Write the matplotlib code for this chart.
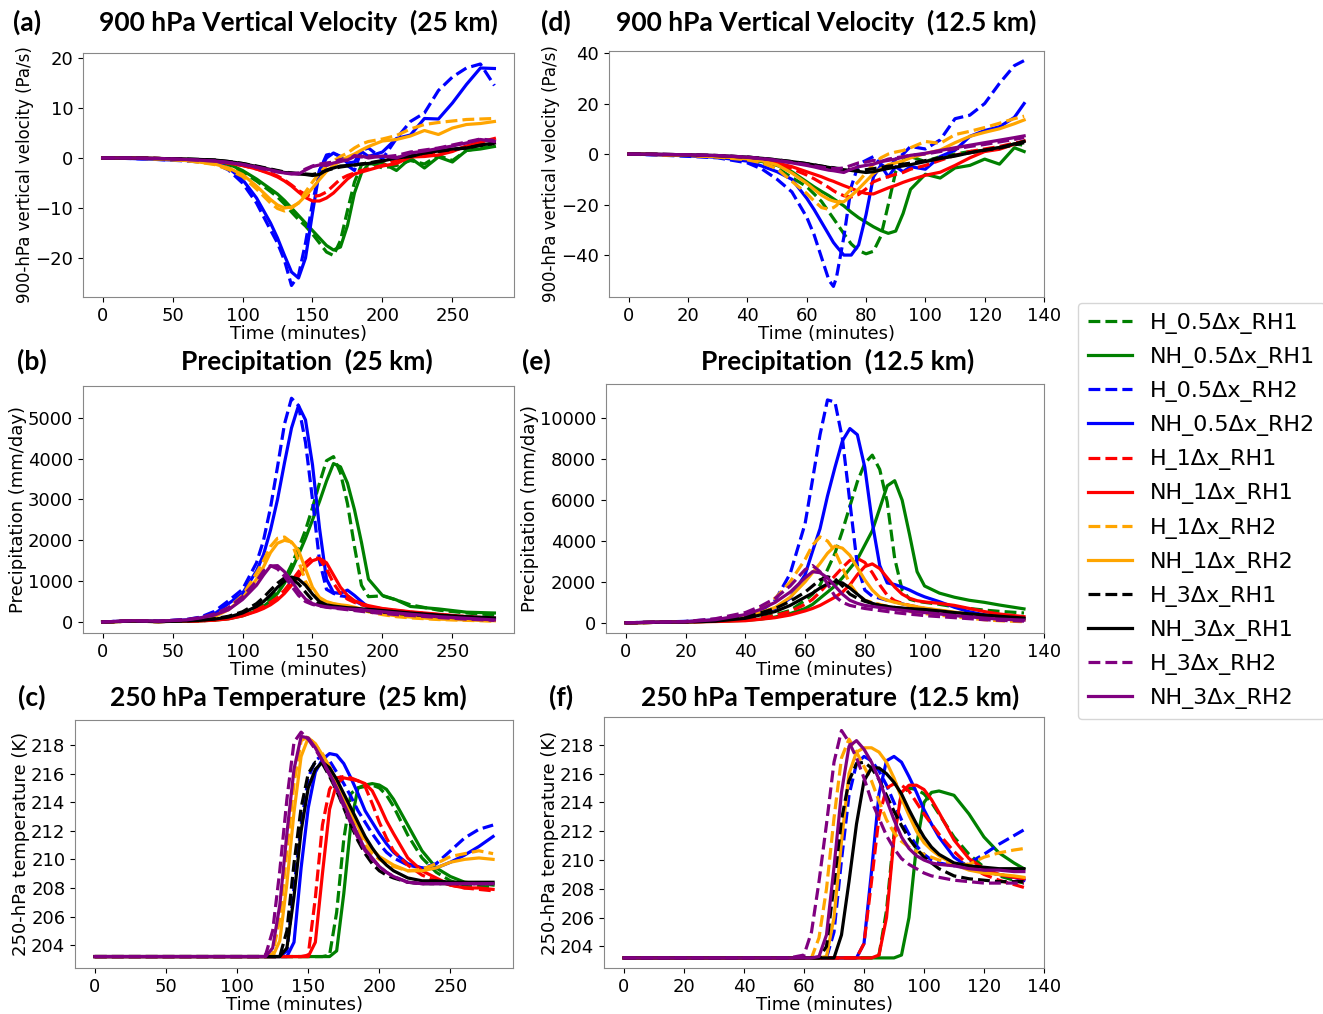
import matplotlib
matplotlib.use("Agg")
import matplotlib.pyplot as plt

# ── legend / style info ─────────────────────────────────────────────────────
LABELS = ["H_0.5Δx_RH1", "NH_0.5Δx_RH1", "H_0.5Δx_RH2", "NH_0.5Δx_RH2",
          "H_1Δx_RH1", "NH_1Δx_RH1", "H_1Δx_RH2", "NH_1Δx_RH2",
          "H_3Δx_RH1", "NH_3Δx_RH1", "H_3Δx_RH2", "NH_3Δx_RH2"]
COLORS = ["green", "green", "blue", "blue", "red", "red",
          "orange", "orange", "black", "black", "purple", "purple"]
STYLES = ["--", "-"] * 6

# ── (a) 900 hPa vertical velocity, 25 km ────────────────────────────────────
A_T = [0, 20, 40, 60, 80, 90, 100, 110, 120, 125, 130, 135, 140, 145, 150, 155,
       160, 165, 170, 175, 180, 185, 190, 200, 210, 220, 230, 240, 250, 260, 270, 280]
A_H05_RH1 = [0, 0, -0.1, -0.3, -0.7, -1.3, -2.8, -4.6, -6.7, -7.8, -9.2, -10.8, -12.3, -13.6, -15.2, -17,
             -18.8, -19.5, -16.5, -10.5, -4.8, -1.4, -0.8, -2.0, -1.5, -0.5, -1.2, 0.5, -0.5, 1.5, 2.0, 2.5]
A_NH05_RH1 = [0, 0, -0.1, -0.3, -0.6, -1.2, -2.5, -4.2, -6.2, -7.2, -8.5, -10, -11.5, -13, -14.5, -16,
              -17.5, -18.4, -17.8, -13.5, -7, -3, -1.2, -1.0, -2.5, 0, -2.0, 0.2, -0.8, 1.5, 1.8, 2.3]
A_H05_RH2 = [0, -0.1, -0.3, -0.6, -1.0, -2.4, -5, -9, -14.4, -17, -20.5, -25.5, -23.5, -17, -9, -2.5,
             0.6, 0.9, 0.3, -1.5, -2.5, 1.5, 2.0, -0.2, 3.9, 7.3, 9.0, 13.5, 16.2, 18, 18.8, 14.5]
A_NH05_RH2 = [0, -0.1, -0.3, -0.5, -0.9, -2.0, -4.3, -8, -13, -16, -19.5, -22.8, -24.0, -20, -11, -2.5,
              0, 1.0, 0.3, -1, -0.8, 1.3, 0.3, 1.2, 3.9, 4.6, 7.9, 7.8, 11, 14.7, 18, 17.9]
A_H1_RH1 = [0, 0, -0.1, -0.3, -0.6, -1.0, -1.5, -2.2, -3.0, -3.6, -4.4, -5.4, -6.5, -7.3, -7.7, -7.5,
            -6.8, -5.5, -4.2, -3.5, -3.0, -2.5, -2.2, -1.5, -0.5, 0.3, 0.5, 0.9, 1.5, 2.3, 3.0, 3.6]
A_NH1_RH1 = [0, 0, -0.1, -0.3, -0.6, -1.0, -1.5, -2.2, -3.2, -3.8, -4.6, -5.6, -6.8, -7.9, -8.6, -8.6,
             -8.0, -7.0, -5.6, -4.2, -3.2, -2.8, -2.4, -1.6, -1.1, 0.2, 0.3, 0.6, 1.3, 2.4, 3.2, 3.9]
A_H1_RH2 = [0, 0, -0.2, -0.5, -1.3, -2.3, -3.7, -6.2, -9.0, -10.1, -10.6, -10.0, -9.0, -6.8, -4.8, -3.0,
            -1.6, -0.6, 0.3, 1.0, 2.0, 2.8, 3.3, 3.8, 4.5, 5.8, 6.7, 7.1, 7.4, 7.7, 7.8, 7.9]
A_NH1_RH2 = [0, 0, -0.2, -0.5, -1.2, -2.0, -3.3, -5.6, -8.3, -9.4, -10.0, -9.8, -9.0, -7.6, -6.0, -4.3,
             -2.7, -1.5, -0.6, 0.2, 0.8, 1.6, 2.3, 3.4, 3.7, 4.4, 5.5, 4.7, 6.0, 6.7, 6.9, 7.3]
A_H3_RH1 = [0, 0, -0.1, -0.2, -0.4, -0.7, -1.1, -1.6, -2.2, -2.5, -2.8, -3.0, -3.1, -3.2, -3.3, -3.0,
            -2.5, -2.1, -1.8, -1.6, -1.4, -1.2, -1.0, -0.5, 0.1, 0.4, 1.0, 1.3, 1.7, 2.0, 2.5, 2.9]
A_NH3_RH1 = [0, 0, -0.1, -0.2, -0.4, -0.7, -1.1, -1.7, -2.3, -2.6, -2.9, -3.0, -3.2, -3.3, -3.5, -3.3,
             -2.4, -2.0, -1.6, -1.5, -1.4, -1.2, -1.1, -0.6, 0.0, 0.3, 1.0, 1.4, 1.8, 2.0, 2.6, 3.0]
A_H3_RH2 = [0, 0, -0.1, -0.3, -0.6, -0.9, -1.3, -1.9, -2.5, -2.8, -3.0, -3.1, -3.0, -2.2, -1.6, -1.2,
            -1.0, -0.8, -0.3, -0.5, 0.5, 0.2, 0.4, 0.2, 0.5, 1.2, 1.6, 2.0, 2.6, 3.2, 3.8, 3.5]
A_NH3_RH2 = [0, 0, -0.1, -0.3, -0.6, -0.9, -1.3, -1.8, -2.4, -2.7, -3.0, -3.2, -3.2, -2.4, -1.7, -1.4,
             -1.5, -1.0, -0.7, -0.4, 0.3, 0.4, 0.0, 0.4, 0.0, 1.0, 1.4, 1.9, 2.4, 3.0, 3.7, 3.3]

# ── (d) 900 hPa vertical velocity, 12.5 km ──────────────────────────────────
D_T = [0, 10, 20, 30, 40, 45, 50, 55, 60, 62.5, 65, 67.5, 69, 70, 72.5, 75, 77.5,
       80, 82.5, 85, 87.5, 90, 92.5, 95, 100, 105, 110, 115, 120, 125, 130, 133.3]
D_H05_RH1 = [0, -0.2, -0.5, -1.0, -2.3, -3.5, -5.5, -9.3, -12.9, -15.8, -18.8, -23, -25.5, -27.2, -31.5, -35.6, -38.2,
             -39.5, -38.5, -32.5, -20, -7, -2.5, -1, -3, -1, 0, 1, 1.5, 2.5, 4, 3.5]
D_NH05_RH1 = [0, -0.2, -0.5, -1.0, -2.0, -3.0, -4.5, -7.0, -11, -13, -14.8, -16.5, -17.7, -18.5, -20.5, -23, -25.2,
              -27, -28.8, -30.3, -31.4, -30.5, -23.5, -14, -8, -9.5, -5.5, -4.5, -2, -4, 2.5, 1]
D_H05_RH2 = [0, -0.4, -0.9, -1.5, -3.5, -6, -10, -15, -25, -32, -41, -50, -52.4, -49, -33, -13, -4,
             -2.5, -1, -4, -6, -2, 0, 3, 2, 5.6, 14, 15.4, 20, 28, 35, 37]
D_NH05_RH2 = [0, -0.3, -0.7, -1.3, -2.8, -4.8, -7, -10, -17.5, -22, -27, -32, -35, -36.5, -40, -40, -36,
              -24, -9, -4.5, -9, -5, -7, -5, -6, -1.0, 1.5, 7, 9.3, 10.8, 14.5, 20]
D_H1_RH1 = [0, -0.2, -0.5, -1.0, -2.0, -2.8, -4.0, -5.8, -8.3, -9.8, -11.5, -13.3, -14.5, -15.2, -16.5, -17, -16,
            -13.8, -11, -9.8, -9, -8, -7.3, -6, -4.5, -2.5, -0.5, 1, 2, 3, 4.3, 5]
D_NH1_RH1 = [0, -0.2, -0.5, -1.0, -1.8, -2.5, -3.5, -5.0, -7.0, -8.0, -9.0, -10.2, -10.8, -11.3, -12.5, -13.6, -14.8,
             -15.6, -15.8, -14.6, -13.4, -12.4, -11.2, -10.2, -8.4, -7.2, -4.5, -1.5, 1, 1.9, 3.9, 5.2]
D_H1_RH2 = [0, -0.2, -0.5, -1.2, -2.3, -3.5, -5.8, -10.8, -15.6, -18.6, -21.2, -21.9, -21.2, -20.4, -17, -13.8, -10.8,
            -7.4, -4, -1.5, 0, 0.8, 1.4, 2.5, 5, 4.2, 7.7, 9, 10.5, 12.2, 14, 15]
D_NH1_RH2 = [0, -0.2, -0.5, -1.0, -1.9, -2.7, -4.3, -7.5, -11.6, -14, -16.3, -18, -18.6, -18.9, -18.9, -16.5, -13.8,
             -10.8, -7.7, -5.8, -4.2, -3.5, -2.7, -1.5, 0.2, 1.6, 4.5, 7.0, 8.6, 10, 12, 13.5]
D_H3_RH1 = [0, -0.1, -0.3, -0.6, -1.2, -1.7, -2.3, -3.0, -3.8, -4.3, -4.8, -5.2, -5.4, -5.6, -6.0, -6.3, -6.5,
            -6.2, -5.8, -5.3, -4.8, -4.5, -4.0, -3.6, -2.6, -1.5, -0.5, 0.5, 1.5, 2.4, 3.6, 4.5]
D_NH3_RH1 = [0, -0.1, -0.3, -0.6, -1.2, -1.7, -2.3, -3.0, -3.8, -4.3, -4.8, -5.3, -5.6, -5.8, -6.2, -6.5, -6.9,
             -7.3, -7.0, -6.3, -5.7, -5.2, -4.7, -4.2, -3.0, -1.8, -0.8, 0.5, 1.6, 2.6, 4.0, 5.0]
D_H3_RH2 = [0, -0.1, -0.3, -0.6, -1.2, -1.8, -2.5, -3.3, -4.2, -4.7, -5.2, -5.6, -5.7, -5.8, -5.5, -4.5, -3.5,
            -3.2, -2.5, -3.0, -2.0, -1.5, -1.0, -0.5, 0.0, 1.0, 2.0, 3.0, 3.8, 4.8, 5.8, 6.5]
D_NH3_RH2 = [0, -0.1, -0.3, -0.6, -1.3, -1.9, -2.6, -3.5, -4.5, -5.1, -5.8, -6.4, -6.6, -6.8, -7.3, -6.0, -5.0,
             -4.5, -4.0, -3.0, -2.5, -2.0, -1.2, -0.5, 0.3, 1.4, 2.5, 3.5, 4.5, 5.5, 6.5, 7.2]

# ── (b) precipitation, 25 km ────────────────────────────────────────────────
B_T = [0, 20, 40, 60, 70, 80, 90, 100, 110, 115, 120, 125, 130, 135, 140, 145,
       150, 155, 160, 165, 170, 175, 180, 185, 190, 200, 210, 220, 240, 260, 280]
B_H05_RH1 = [0, 20, 10, 20, 30, 50, 90, 170, 320, 430, 580, 800, 1050, 1400, 1800, 2250,
             2800, 3400, 3950, 4050, 3650, 2900, 1850, 900, 620, 640, 540, 420, 290, 220, 170]
B_NH05_RH1 = [0, 20, 10, 20, 30, 45, 80, 150, 280, 380, 520, 700, 950, 1270, 1650, 2050,
              2500, 2950, 3450, 3880, 3800, 3400, 2750, 1950, 1050, 650, 540, 380, 320, 240, 220]
B_H05_RH2 = [0, 30, 20, 60, 120, 260, 520, 800, 1450, 2000, 2800, 3800, 4850, 5480, 5300, 4400,
             3000, 1500, 800, 700, 640, 620, 520, 430, 370, 290, 240, 200, 120, 80, 50]
B_NH05_RH2 = [0, 30, 20, 50, 100, 200, 450, 700, 1250, 1650, 2250, 3000, 3900, 4750, 5300, 4950,
              3850, 2300, 1050, 720, 700, 780, 650, 500, 360, 290, 250, 200, 140, 90, 60]
B_H1_RH1 = [0, 20, 10, 20, 30, 50, 90, 180, 300, 380, 480, 600, 780, 1000, 1230, 1450,
            1590, 1550, 1300, 950, 700, 560, 480, 420, 380, 320, 280, 240, 180, 130, 90]
B_NH1_RH1 = [0, 20, 10, 20, 25, 45, 75, 150, 260, 330, 420, 540, 700, 900, 1120, 1340,
             1500, 1560, 1450, 1150, 850, 650, 520, 450, 400, 330, 290, 250, 190, 130, 90]
B_H1_RH2 = [0, 20, 10, 40, 80, 150, 350, 650, 1200, 1500, 1850, 2050, 2080, 1950, 1500, 1000,
            700, 550, 480, 440, 410, 380, 340, 300, 250, 180, 130, 100, 60, 40, 20]
B_NH1_RH2 = [0, 20, 10, 35, 70, 130, 300, 580, 1050, 1350, 1700, 1930, 2000, 1960, 1750, 1300,
             850, 600, 500, 450, 420, 400, 360, 320, 270, 200, 150, 120, 70, 50, 30]
B_H3_RH1 = [0, 20, 10, 30, 50, 80, 140, 250, 450, 600, 780, 950, 1080, 1060, 930, 730,
            530, 430, 380, 360, 340, 320, 300, 290, 270, 240, 210, 180, 130, 90, 60]
B_NH3_RH1 = [0, 20, 10, 25, 40, 70, 120, 220, 380, 500, 660, 850, 1000, 1100, 1050, 900,
             680, 500, 420, 390, 370, 350, 340, 320, 310, 280, 250, 220, 170, 130, 100]
B_H3_RH2 = [0, 30, 20, 60, 110, 200, 350, 620, 1000, 1250, 1380, 1300, 1120, 880, 650, 500,
            430, 390, 360, 340, 320, 300, 280, 260, 240, 210, 180, 160, 110, 70, 40]
B_NH3_RH2 = [0, 30, 20, 50, 100, 170, 300, 550, 900, 1150, 1370, 1380, 1230, 1000, 760, 560,
             450, 400, 370, 350, 340, 320, 310, 300, 280, 250, 220, 190, 130, 90, 50]

# ── (e) precipitation, 12.5 km ──────────────────────────────────────────────
E_T = [0, 10, 20, 30, 40, 45, 50, 55, 60, 62.5, 65, 67.5, 70, 72.5, 75, 77.5,
       80, 82.5, 85, 87.5, 90, 92.5, 95, 97.5, 100, 105, 110, 115, 120, 125, 133.3]
E_H05_RH1 = [0, 20, 40, 80, 150, 250, 400, 600, 1100, 1400, 1850, 2600, 3400, 4500, 5700, 6900,
             7800, 8200, 7500, 5900, 3150, 1600, 1150, 1050, 1000, 900, 780, 700, 620, 560, 480]
E_NH05_RH1 = [0, 20, 40, 70, 120, 180, 280, 450, 700, 900, 1200, 1500, 1800, 2200, 2650, 3100,
              3800, 4500, 5600, 6700, 6950, 6000, 4300, 2500, 1800, 1450, 1250, 1100, 1000, 870, 680]
E_H05_RH2 = [0, 30, 70, 170, 320, 550, 1100, 2400, 4850, 7000, 9200, 10900, 10800, 9000, 5900, 2800,
             1600, 1300, 1200, 1100, 1030, 930, 820, 730, 650, 520, 380, 330, 290, 260, 210]
E_NH05_RH2 = [0, 30, 60, 140, 300, 480, 700, 1200, 2350, 3500, 4600, 6200, 7600, 8900, 9500, 9200,
              7600, 4900, 2800, 1950, 1870, 1750, 1600, 1420, 1270, 1030, 760, 540, 390, 300, 210]
E_H1_RH1 = [0, 20, 40, 80, 150, 230, 350, 550, 900, 1150, 1500, 1900, 2300, 2700, 3050, 3150,
            2950, 2450, 1850, 1350, 1080, 950, 850, 780, 700, 600, 500, 420, 350, 290, 200]
E_NH1_RH1 = [0, 20, 40, 60, 100, 170, 250, 380, 580, 700, 850, 1050, 1250, 1500, 1850, 2350,
             2750, 2880, 2650, 2200, 1750, 1400, 1200, 1080, 1020, 950, 850, 700, 550, 430, 300]
E_H1_RH2 = [0, 20, 60, 150, 400, 700, 1200, 2000, 3100, 3800, 4200, 4000, 3500, 2700, 1900, 1400,
            1100, 1000, 900, 800, 700, 620, 550, 500, 450, 370, 300, 220, 150, 100, 50]
E_NH1_RH2 = [0, 20, 50, 120, 300, 500, 750, 1250, 2000, 2450, 2900, 3400, 3750, 3650, 3300, 2700,
             2100, 1600, 1250, 1100, 1000, 920, 850, 780, 720, 620, 520, 420, 330, 250, 150]
E_H3_RH1 = [0, 20, 50, 100, 300, 480, 700, 1050, 1500, 1800, 2100, 2250, 2150, 1800, 1400, 1200,
            1050, 950, 850, 800, 750, 700, 660, 630, 600, 520, 450, 380, 300, 240, 150]
E_NH3_RH1 = [0, 20, 40, 80, 220, 380, 550, 850, 1250, 1450, 1700, 1900, 2000, 1950, 1700, 1400,
             1100, 950, 850, 800, 750, 720, 690, 670, 650, 580, 500, 440, 380, 320, 230]
E_H3_RH2 = [0, 30, 60, 200, 500, 800, 1200, 1800, 2600, 2800, 2500, 1900, 1300, 1000, 850, 770,
            700, 650, 600, 550, 500, 460, 420, 390, 350, 300, 250, 200, 150, 120, 80]
E_NH3_RH2 = [0, 30, 50, 150, 400, 650, 1000, 1500, 2200, 2500, 2450, 2200, 1800, 1400, 1100, 950,
             850, 800, 750, 700, 650, 610, 570, 530, 500, 430, 350, 290, 230, 180, 130]

# ── (c) 250 hPa temperature, 25 km ──────────────────────────────────────────
C_T = [0, 50, 100, 115, 120, 125, 130, 135, 140, 145, 150, 155, 160, 165, 170,
       175, 180, 185, 190, 195, 200, 205, 210, 220, 230, 240, 250, 260, 270, 280]
C_H05_RH1 = [203.2, 203.2, 203.2, 203.2, 203.2, 203.2, 203.2, 203.2, 203.2, 203.2, 203.2, 203.2, 203.2, 203.3, 206.3,
             211.4, 214.6, 215.0, 215.1, 215.2, 215.0, 214.5, 213.7, 211.7, 210.1, 209.1, 208.5, 208.2, 208.1, 208.0]
C_NH05_RH1 = [203.2, 203.2, 203.2, 203.2, 203.2, 203.2, 203.2, 203.2, 203.2, 203.2, 203.2, 203.2, 203.2, 203.2, 203.6,
              207.6, 212.5, 215.0, 215.2, 215.3, 215.2, 214.9, 214.2, 212.4, 210.6, 209.4, 208.8, 208.4, 208.3, 208.2]
C_H05_RH2 = [203.2, 203.2, 203.2, 203.2, 203.2, 203.2, 203.2, 203.6, 208.0, 212.4, 215.7, 216.9, 217.3, 216.9, 216.1,
             215.3, 214.4, 213.4, 212.6, 211.8, 211.1, 210.5, 210.1, 209.6, 209.4, 209.7, 210.6, 211.5, 212.1, 212.4]
C_NH05_RH2 = [203.2, 203.2, 203.2, 203.2, 203.2, 203.2, 203.2, 203.2, 204.2, 209.4, 213.6, 216.1, 217.0, 217.4, 217.3,
              216.7, 215.7, 214.6, 213.4, 212.6, 211.8, 211.1, 210.5, 209.7, 209.4, 209.4, 209.8, 210.3, 210.9, 211.6]
C_H1_RH1 = [203.2, 203.2, 203.2, 203.2, 203.2, 203.2, 203.2, 203.2, 203.2, 203.2, 203.3, 207.3, 212.4, 214.9, 215.7,
            215.8, 215.7, 215.5, 215.1, 213.9, 212.6, 211.5, 210.6, 209.6, 208.9, 208.5, 208.2, 208.0, 207.9, 207.8]
C_NH1_RH1 = [203.2, 203.2, 203.2, 203.2, 203.2, 203.2, 203.2, 203.2, 203.2, 203.2, 203.2, 204.2, 209.0, 213.5, 215.3,
             215.7, 215.6, 215.5, 215.3, 214.8, 213.8, 212.7, 211.8, 210.1, 209.2, 208.7, 208.2, 208.0, 208.0, 207.9]
C_H1_RH2 = [203.2, 203.2, 203.2, 203.2, 203.2, 203.4, 205.8, 210.6, 215.3, 218.3, 218.6, 218.0, 217.4, 216.4, 215.4,
            214.2, 213.1, 212.0, 211.0, 210.4, 210.0, 209.7, 209.5, 209.2, 209.3, 209.7, 210.2, 210.4, 210.6, 210.4]
C_NH1_RH2 = [203.2, 203.2, 203.2, 203.2, 203.2, 203.2, 204.3, 208.3, 213.3, 217.2, 218.5, 218.1, 217.3, 216.5, 215.5,
             214.3, 213.3, 212.3, 211.4, 210.7, 210.2, 209.9, 209.6, 209.2, 209.2, 209.4, 209.8, 210.0, 210.1, 210.0]
C_H3_RH1 = [203.2, 203.2, 203.2, 203.2, 203.2, 203.2, 203.2, 205.0, 209.7, 213.6, 216.0, 216.8, 216.7, 215.8, 214.8,
            213.6, 212.4, 211.3, 210.4, 209.7, 209.2, 208.9, 208.7, 208.4, 208.3, 208.3, 208.3, 208.3, 208.3, 208.3]
C_NH3_RH1 = [203.2, 203.2, 203.2, 203.2, 203.2, 203.2, 203.2, 203.8, 207.4, 212.0, 215.0, 216.3, 216.8, 216.4, 215.6,
             214.6, 213.6, 212.6, 211.6, 210.8, 210.1, 209.6, 209.2, 208.7, 208.5, 208.5, 208.4, 208.4, 208.4, 208.4]
C_H3_RH2 = [203.2, 203.2, 203.2, 203.2, 203.3, 205.0, 209.2, 214.2, 218.2, 218.9, 218.4, 217.7, 216.9, 215.9, 214.9,
            213.7, 212.5, 211.5, 210.6, 210.0, 209.5, 209.1, 208.8, 208.4, 208.3, 208.3, 208.3, 208.3, 208.3, 208.3]
C_NH3_RH2 = [203.2, 203.2, 203.2, 203.2, 203.2, 203.8, 206.8, 211.8, 216.3, 218.6, 218.5, 217.8, 216.9, 216.0, 215.0,
             213.9, 212.8, 211.7, 210.7, 210.1, 209.5, 209.1, 208.8, 208.4, 208.3, 208.3, 208.3, 208.3, 208.3, 208.3]

# ── (f) 250 hPa temperature, 12.5 km ────────────────────────────────────────
F_T = [0, 40, 55, 60, 62.5, 65, 67.5, 70, 72.5, 75, 77.5, 80, 82.5, 85, 87.5, 90,
       92.5, 95, 97.5, 100, 102.5, 105, 110, 115, 120, 125, 130, 133.3]
F_H05_RH1 = [203.2, 203.2, 203.2, 203.2, 203.2, 203.2, 203.2, 203.2, 203.2, 203.2, 203.2, 203.2, 203.2, 203.4, 206.5, 211.8,
             214.6, 215.0, 214.9, 214.6, 214.0, 213.2, 211.6, 210.4, 209.5, 208.9, 208.6, 208.4]
F_NH05_RH1 = [203.2, 203.2, 203.2, 203.2, 203.2, 203.2, 203.2, 203.2, 203.2, 203.2, 203.2, 203.2, 203.2, 203.2, 203.2, 203.2,
              203.4, 206.0, 211.0, 214.0, 214.7, 214.8, 214.5, 213.2, 211.6, 210.5, 209.8, 209.4]
F_H05_RH2 = [203.2, 203.2, 203.2, 203.2, 203.2, 203.2, 203.2, 205.0, 210.0, 214.5, 216.7, 217.2, 216.9, 216.2, 215.2, 214.0,
             212.8, 211.8, 211.0, 210.4, 210.0, 209.8, 209.6, 209.8, 210.4, 211.1, 211.7, 212.1]
F_NH05_RH2 = [203.2, 203.2, 203.2, 203.2, 203.2, 203.2, 203.2, 203.2, 203.2, 203.2, 203.2, 204.2, 209.2, 214.6, 216.9, 217.2,
              216.8, 215.8, 214.7, 213.5, 212.5, 211.6, 210.2, 209.5, 209.2, 209.0, 208.8, 208.6]
F_H1_RH1 = [203.2, 203.2, 203.2, 203.2, 203.2, 203.2, 203.2, 203.2, 203.2, 203.2, 203.2, 204.2, 208.5, 213.0, 215.0, 215.3,
            215.2, 214.8, 214.0, 213.2, 212.5, 211.8, 210.6, 209.6, 209.0, 208.6, 208.3, 208.1]
F_NH1_RH1 = [203.2, 203.2, 203.2, 203.2, 203.2, 203.2, 203.2, 203.2, 203.2, 203.2, 203.2, 203.2, 203.2, 203.4, 206.0, 211.5,
             214.7, 215.2, 215.2, 214.9, 214.2, 213.3, 211.4, 210.1, 209.4, 209.0, 208.8, 208.7]
F_H1_RH2 = [203.2, 203.2, 203.2, 203.2, 203.2, 204.6, 208.0, 212.9, 217.1, 218.4, 217.5, 216.5, 215.5, 214.1, 212.8, 211.9,
            211.3, 210.9, 210.6, 210.4, 210.2, 210.0, 209.7, 209.7, 210.2, 210.5, 210.7, 210.8]
F_NH1_RH2 = [203.2, 203.2, 203.2, 203.2, 203.2, 203.2, 203.3, 206.0, 211.3, 216.0, 217.5, 217.8, 217.8, 217.5, 216.8, 215.7,
             214.3, 213.1, 212.0, 211.2, 210.7, 210.3, 209.7, 209.3, 209.1, 209.0, 208.9, 208.8]
F_H3_RH1 = [203.2, 203.2, 203.2, 203.2, 203.2, 203.2, 204.0, 208.3, 212.8, 215.5, 216.7, 216.8, 216.4, 215.6, 214.5, 213.4,
            212.4, 211.5, 210.8, 210.2, 209.8, 209.4, 208.9, 208.7, 208.6, 208.5, 208.5, 208.5]
F_NH3_RH1 = [203.2, 203.2, 203.2, 203.2, 203.2, 203.2, 203.2, 203.2, 204.8, 208.5, 212.5, 215.5, 216.4, 216.4, 216.0, 215.4,
             214.6, 213.5, 212.5, 211.6, 210.9, 210.4, 209.8, 209.6, 209.5, 209.4, 209.4, 209.4]
F_H3_RH2 = [203.2, 203.2, 203.2, 203.4, 205.0, 208.5, 212.5, 216.8, 219.0, 218.2, 217.1, 215.7, 214.1, 212.9, 211.7, 210.8,
            210.1, 209.7, 209.4, 209.1, 208.9, 208.8, 208.6, 208.5, 208.4, 208.4, 208.4, 208.4]
F_NH3_RH2 = [203.2, 203.2, 203.2, 203.2, 203.2, 203.3, 204.8, 209.5, 214.7, 217.9, 218.3, 217.7, 216.8, 215.6, 214.2, 212.8,
             211.6, 210.8, 210.3, 210.0, 209.8, 209.7, 209.6, 209.4, 209.3, 209.3, 209.2, 209.2]

PANELS = [
    # letter, title, ylabel (+size), times, series, rect px (left, top, right, bottom),
    # ylim, yticks, xticks, (letter x, title x)
    ("(a)", "900 hPa Vertical Velocity  (25 km)", ("900-hPa vertical velocity (Pa/s)", 12), A_T,
     [A_H05_RH1, A_NH05_RH1, A_H05_RH2, A_NH05_RH2, A_H1_RH1, A_NH1_RH1,
      A_H1_RH2, A_NH1_RH2, A_H3_RH1, A_NH3_RH1, A_H3_RH2, A_NH3_RH2],
     (83, 53, 514, 297), (-27.8, 21.0), [-20, -10, 0, 10, 20], range(0, 251, 50), (27, 298)),
    ("(d)", "900 hPa Vertical Velocity  (12.5 km)", ("900-hPa vertical velocity (Pa/s)", 12), D_T,
     [D_H05_RH1, D_NH05_RH1, D_H05_RH2, D_NH05_RH2, D_H1_RH1, D_NH1_RH1,
      D_H1_RH2, D_NH1_RH2, D_H3_RH1, D_NH3_RH1, D_H3_RH2, D_NH3_RH2],
     (609, 51, 1044, 297), (-56.6, 40.8), [-40, -20, 0, 20, 40], range(0, 141, 20), (556, 826)),
    ("(b)", "Precipitation  (25 km)", ("Precipitation (mm/day)", 13), B_T,
     [B_H05_RH1, B_NH05_RH1, B_H05_RH2, B_NH05_RH2, B_H1_RH1, B_NH1_RH1,
      B_H1_RH2, B_NH1_RH2, B_H3_RH1, B_NH3_RH1, B_H3_RH2, B_NH3_RH2],
     (83, 386, 514, 633), (-270, 5780), range(0, 5001, 1000), range(0, 251, 50), (32, 307)),
    ("(e)", "Precipitation  (12.5 km)", ("Precipitation (mm/day)", 13), E_T,
     [E_H05_RH1, E_NH05_RH1, E_H05_RH2, E_NH05_RH2, E_H1_RH1, E_NH1_RH1,
      E_H1_RH2, E_NH1_RH2, E_H3_RH1, E_NH3_RH1, E_H3_RH2, E_NH3_RH2],
     (606, 384, 1044, 633), (-500, 11680), range(0, 10001, 2000), range(0, 141, 20), (536, 838)),
    ("(c)", "250 hPa Temperature  (25 km)", ("250-hPa temperature (K)", 13), C_T,
     [C_H05_RH1, C_NH05_RH1, C_H05_RH2, C_NH05_RH2, C_H1_RH1, C_NH1_RH1,
      C_H1_RH2, C_NH1_RH2, C_H3_RH1, C_NH3_RH1, C_H3_RH2, C_NH3_RH2],
     (75, 720, 513, 968), (202.4, 219.75), range(204, 219, 2), range(0, 251, 50), (32, 288)),
    ("(f)", "250 hPa Temperature  (12.5 km)", ("250-hPa temperature (K)", 13), F_T,
     [F_H05_RH1, F_NH05_RH1, F_H05_RH2, F_NH05_RH2, F_H1_RH1, F_NH1_RH1,
      F_H1_RH2, F_NH1_RH2, F_H3_RH1, F_NH3_RH1, F_H3_RH2, F_NH3_RH2],
     (604, 717, 1044, 968), (202.5, 219.94), range(204, 219, 2), range(0, 141, 20), (561, 830)),
]

W, H = 1323, 1014
fig = plt.figure(figsize=(W / 100, H / 100), dpi=100)

TITLE_Y = {53: 22, 51: 22, 386: 361, 384: 361, 720: 697, 717: 697}

handles = []
for letter, title, (ylabel, ysize), times, series, rect, ylim, yticks, xticks, (lx, tx) in PANELS:
    l, t, r, b = rect
    ax = fig.add_axes([l / W, 1 - b / H, (r - l) / W, (b - t) / H])
    lines = []
    for vals, c, ls, lab in zip(series, COLORS, STYLES, LABELS):
        ln, = ax.plot(times, vals, color=c, linestyle=ls, linewidth=2.3, label=lab)
        lines.append(ln)
    handles = lines
    xmax = times[-1]
    pad = 0.05 * xmax
    ax.set_xlim(-pad, xmax + pad)
    ax.set_ylim(*ylim)
    ax.set_yticks(list(yticks))
    ax.set_xticks(list(xticks))
    ax.tick_params(labelsize=13)
    ax.set_xlabel("Time (minutes)", fontsize=13, labelpad=0)
    ax.set_ylabel(ylabel, fontsize=ysize, labelpad=1)
    for sp in ax.spines.values():
        sp.set_color("#888888")

    ty = 1 - TITLE_Y[t] / H
    fig.text(lx / W, ty, letter, fontsize=19, fontweight="bold",
             family="Lato", ha="center", va="center")
    fig.text(tx / W, ty, title, fontsize=19, fontweight="bold",
             family="Lato", ha="center", va="center")

fig.legend(handles=handles, labels=LABELS, loc="center left",
           bbox_to_anchor=(1078 / W, 1 - 511 / H), borderaxespad=0,
           fontsize=16, handlelength=2.0, labelspacing=0.59, borderpad=0.45,
           handletextpad=0.8, frameon=True)

fig.savefig("out.png", dpi=100)
